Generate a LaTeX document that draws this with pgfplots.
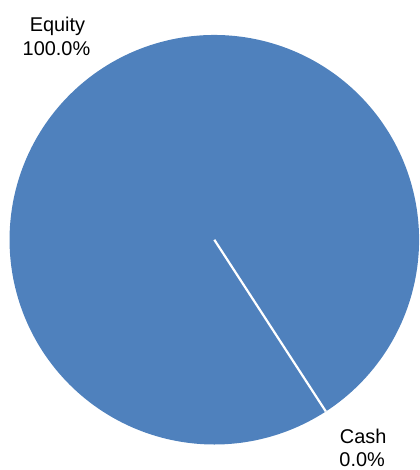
\documentclass[border=0pt]{standalone}
\usepackage{pgfplots}
\usepackage{pgfplotstable}
\pgfplotsset{compat=1.18}
\usepackage{fontspec}
\setmainfont{Liberation Sans}
\definecolor{pieblue}{HTML}{4F81BD}
\pgfplotstableread{
name share
Equity 100.0
Cash 0.0
}\shares
\begin{document}
\pgfplotstablegetelem{0}{share}\of\shares \let\eqshare\pgfplotsretval
\pgfplotstablegetelem{1}{share}\of\shares \let\cashshare\pgfplotsretval
\pgfmathsetmacro{\startang}{-57}
\pgfmathsetmacro{\eqend}{\startang+3.6*\eqshare}
\begin{tikzpicture}
\begin{axis}[
  scale only axis, width=414bp, height=470bp,
  xmin=0, xmax=414, ymin=0, ymax=470,
  hide axis, clip=false,
]
\path (axis cs:0,0) rectangle (axis cs:414,470);
% Equity slice
\addplot[draw=none, fill=pieblue, domain=\startang:\eqend, samples=241, variable=\t]
  ({209+205*cos(\t)}, {230+205*sin(\t)}) -- (axis cs:209,230) -- cycle;
% slice boundary (Cash 0.0%)
\addplot[white, line width=2.2pt, domain=0:205, samples=2, variable=\r]
  ({209+\r*cos(\startang)}, {230+\r*sin(\startang)});
\node[anchor=base, font=\fontsize{20}{24}\selectfont] at (axis cs:52,438) {Equity};
\node[anchor=base, font=\fontsize{20}{24}\selectfont] at (axis cs:51,414) {100.0\%};
\node[anchor=base, font=\fontsize{20}{24}\selectfont] at (axis cs:358,26) {Cash};
\node[anchor=base, font=\fontsize{20}{24}\selectfont] at (axis cs:357,3) {0.0\%};
\end{axis}
\end{tikzpicture}
\end{document}
